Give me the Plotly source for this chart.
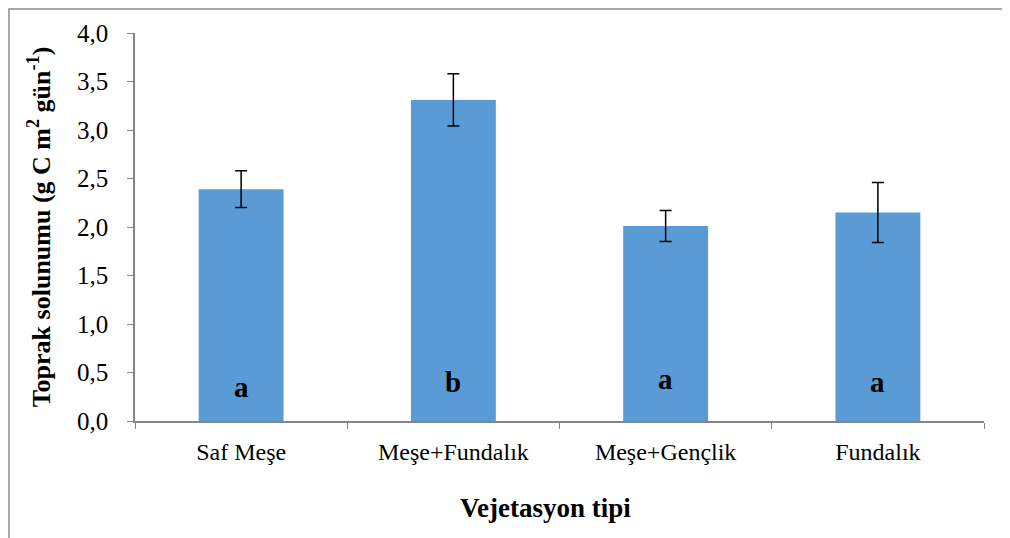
import plotly.graph_objects as go

categories = ["Saf Meşe", "Meşe+Fundalık", "Meşe+Gençlik", "Fundalık"]
values = [2.39, 3.31, 2.01, 2.15]
errors = [0.19, 0.27, 0.16, 0.31]
letters = ["a", "b", "a", "a"]
letter_y = [0.35, 0.40, 0.43, 0.40]

FONT = "Times New Roman"

fig = go.Figure()
fig.add_trace(go.Bar(
    x=categories, y=values, width=0.4,
    marker=dict(color="#5B9BD5", line=dict(width=0)),
    error_y=dict(type="data", array=errors, visible=True,
                 color="black", thickness=1.5, width=6),
))

for c, t, yy in zip(categories, letters, letter_y):
    fig.add_annotation(x=c, y=yy, text="<b>%s</b>" % t, showarrow=False,
                       font=dict(family=FONT, size=29, color="black"))

# x-axis title (slightly left of the plot centre, as in the reference)
fig.add_annotation(xref="paper", yref="paper", x=0.4835, y=-0.224,
                   xanchor="center", yanchor="middle", showarrow=False,
                   text="<b>Vejetasyon tipi</b>",
                   font=dict(family=FONT, size=27, color="black"))

# outer frame (left and top edges fall inside the picture)
fig.add_shape(type="path", xref="paper", yref="paper",
              path="M -0.1484,-0.4 L -0.1484,1.062 L 1.3,1.062",
              line=dict(color="#8a8a8a", width=1.5))

fig.update_layout(
    width=1010, height=538,
    margin=dict(l=127, r=34, t=25, b=125),
    paper_bgcolor="white", plot_bgcolor="white",
    separators=", ",
    showlegend=False,
    font=dict(family=FONT, size=20, color="black"),
    bargap=0.6,
)
fig.update_xaxes(
    showline=True, linecolor="#868686", linewidth=1.5,
    ticks="outside", ticklen=6, tickcolor="#868686", tickson="boundaries",
    tickfont=dict(family=FONT, size=24), ticklabelstandoff=8,
    showgrid=False,
)
fig.update_yaxes(
    range=[0, 4.0], dtick=0.5, tickformat=".1f",
    showline=True, linecolor="#868686", linewidth=1.5,
    ticks="outside", ticklen=6, tickcolor="#868686",
    tickfont=dict(family=FONT, size=25), ticklabelstandoff=14,
    title=dict(text="<b>Toprak solunumu (g C m<sup>2</sup> gün<sup>-1</sup>)</b>",
               font=dict(family=FONT, size=26), standoff=19),
    showgrid=False, zeroline=False,
)

fig.write_html("out.html")
